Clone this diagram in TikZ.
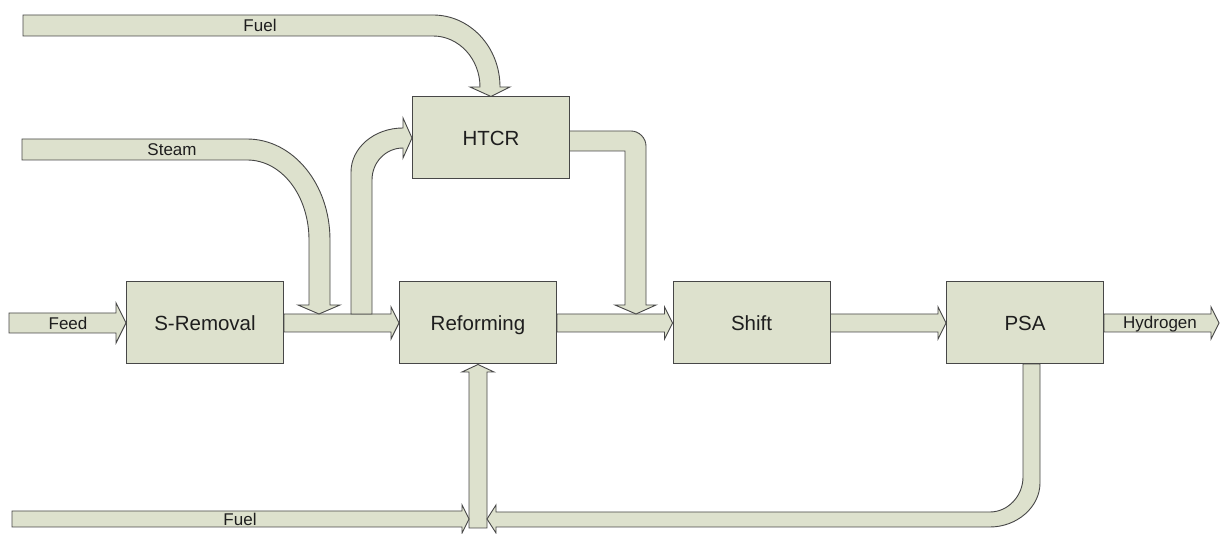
\documentclass[tikz,border=0pt]{standalone}
\usepackage{fontspec}
\setmainfont{Liberation Sans}
\usetikzlibrary{calc,backgrounds}
\definecolor{flowfill}{HTML}{DDE1CD}
\definecolor{edge}{HTML}{474747}
\definecolor{ink}{HTML}{1E1E1E}
\tikzset{
  flow/.style={draw=edge, fill=flowfill, line width=0.9pt, line join=miter},
  unit/.style={draw=edge, fill=flowfill, line width=1pt, minimum width=157pt,
    minimum height=82pt, inner sep=0pt, text=ink, text height=14.7pt, text depth=0pt,
    font=\fontsize{20.5}{24}\selectfont},
  lbl/.style={text=ink, inner sep=0pt, text height=12.2pt, text depth=0pt,
    font=\fontsize{17}{20}\selectfont},
}
% horizontal block arrow: start, tip, half band, half head, head length
\newcommand\hblk[5]{%
  \draw[flow] let \p1=(#1), \p2=(#2) in
    (\x1,\y1+#3) -- (\x2-#5,\y1+#3) -- (\x2-#5,\y1+#4) -- (\x2,\y1)
    -- (\x2-#5,\y1-#4) -- (\x2-#5,\y1-#3) -- (\x1,\y1-#3) -- cycle;}
\begin{document}
\begin{tikzpicture}[x=1pt,y=1pt]
\useasboundingbox (0,0) rectangle (1220,534);

% process units
\node[unit] (srem)  at (205,211)   {S-Removal};
\node[unit] (refm)  at (478,211)   {Reforming};
\node[unit] (shift) at (751.5,211) {Shift};
\node[unit] (psa)   at (1025,211)  {PSA};
\node[unit] (htcr)  at (491,396)   {HTCR};

\coordinate (feedin) at (9,211);
\coordinate (h2out)  at (1219,211);

\begin{scope}[on background layer]
  \fill[white] (0,0) rectangle (1220,534);
  % main line
  \hblk{feedin}{srem.west}{10pt}{20pt}{10pt}
  \hblk{srem.east}{refm.west}{9pt}{16pt}{8pt}
  \hblk{refm.east}{shift.west}{9pt}{16pt}{8pt}
  \hblk{shift.east}{psa.west}{9pt}{16pt}{8pt}
  \hblk{psa.east}{h2out}{9pt}{16pt}{8pt}
  % fuel to HTCR
  \draw[flow] (23,519) -- (433,519) .. controls (470,519) and (500,487) .. (500,447)
    -- (510,447) -- (htcr.north) -- (470,447) -- (480,447)
    .. controls (480,475) and (459,498) .. (433,498) -- (23,498) -- cycle;
  % steam
  \draw[flow] (22,395) -- (247,395) .. controls (293,395) and (330,350) .. (330,294)
    -- (330,229) -- (340,229) -- (319,220) -- (298,229) -- (309,229) -- (309,294)
    .. controls (309,338) and (282,374) .. (247,374) -- (22,374) -- cycle;
  % branch to HTCR
  \draw[flow] (351,220) -- (351,362) .. controls (351,386) and (374,406) .. (403,406)
    -- (403,416) -- (htcr.west) -- (403,376) -- (403,386)
    .. controls (386,386) and (372,372) .. (372,354) -- (372,220) -- cycle;
  % HTCR to shift feed
  \draw[flow] (569,403) -- (631,403) .. controls (639,403) and (646,396) .. (646,388)
    -- (646,229) -- (656,229) -- (636,220) -- (615,229) -- (625,229) -- (625,383)
    -- (569,383) -- cycle;
  % fuel riser to reforming
  \draw[flow] (469,6) -- (469,162) -- (462,162) -- (refm.south) -- (494,162)
    -- (487,162) -- (487,6) -- cycle;
  % bottom fuel
  \draw[flow] (12,7) -- (462,7) -- (462,1) -- (469,15) -- (462,29) -- (462,23)
    -- (12,23) -- cycle;
  % PSA off-gas return
  \draw[flow] (1023,170) -- (1023,57) .. controls (1023,38) and (1008,22) .. (990,22)
    -- (496,22) -- (496,29) -- (487,15) -- (496,1) -- (496,7) -- (990,7)
    .. controls (1017,7) and (1040,27) .. (1040,51) -- (1040,170) -- cycle;
\end{scope}

% labels
\node[lbl] (lfuelA) at (260,509)  {Fuel};
\node[lbl] (lsteam) at (172,385)  {Steam};
\node[lbl] (lfeed)  at (68,211)   {Feed};
\node[lbl] (lh2)    at (1160,212) {Hydrogen};
\node[lbl] (lfuelB) at (240,15)   {Fuel};
\end{tikzpicture}
\end{document}
